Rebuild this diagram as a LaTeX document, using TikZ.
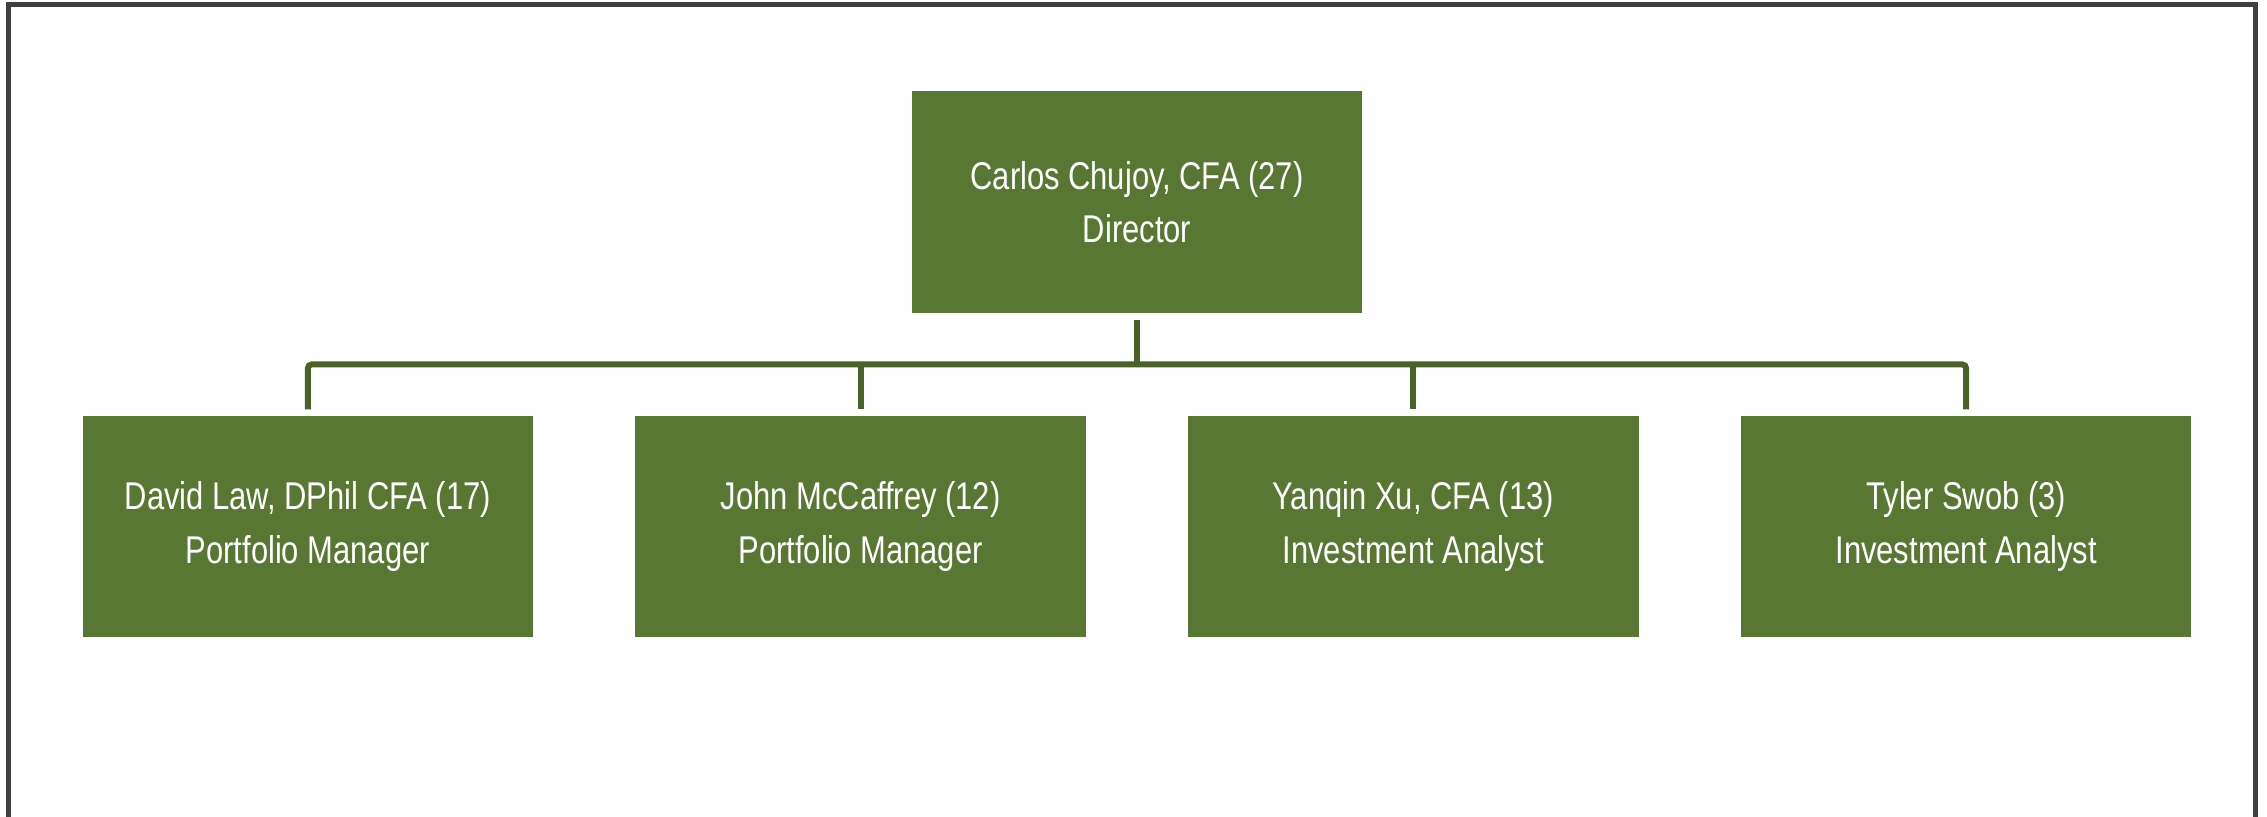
\documentclass[tikz,border=0pt]{standalone}
\usepackage{fontspec}
\setmainfont{Liberation Sans}[FakeStretch=0.8]
\usetikzlibrary{positioning}
\definecolor{boxgreen}{HTML}{587733}
\definecolor{linkgreen}{HTML}{4A6127}
\definecolor{framegray}{HTML}{404040}

\begin{document}
\begin{tikzpicture}[
  font=\fontsize{9.7}{13.5}\selectfont,
  member/.style={fill=boxgreen,text=white,minimum width=113pt,minimum height=55.5pt,align=center,inner sep=0pt},
  link/.style={draw=linkgreen,line width=1.5pt},
  frame/.style={draw=framegray,line width=1.25pt},
]
\node[member] (dir) {Carlos Chujoy, CFA (27)\\Director};
\node[member,below left=25.5pt and 12.6pt of dir.south] (john) {John McCaffrey (12)\\Portfolio Manager};
\node[member,below right=25.5pt and 12.6pt of dir.south] (yanqin) {Yanqin Xu, CFA (13)\\Investment Analyst};
\node[member,left=25.25pt of john] (david) {David Law, DPhil CFA (17)\\Portfolio Manager};
\node[member,right=25.25pt of yanqin] (tyler) {Tyler Swob (3)\\Investment Analyst};

% page and outer frame
\coordinate (pl) at ([xshift=-20.5pt]david.west);
\coordinate (pr) at ([xshift=18.75pt]tyler.east);
\coordinate (pt) at ([yshift=22.75pt]dir.north);
\coordinate (pb) at ([yshift=-44.75pt]david.south);
\useasboundingbox (pl |- pt) rectangle (pr |- pb);
\coordinate (fl) at ([xshift=2.25pt]pl);
\coordinate (fr) at ([xshift=-2.875pt]pr);
\coordinate (ft) at ([yshift=-1.125pt]pt);
\draw[frame] (fl |- pb) -- (fl |- ft) -- (fr |- ft) -- (fr |- pb);

% reporting lines
\coordinate (bus) at ([yshift=-12.75pt]dir.south);
\draw[link] ([yshift=-1.5pt]dir.south) -- (bus);
\draw[link,rounded corners=1pt] ([yshift=1.5pt]david.north) |- (bus) -| ([yshift=1.5pt]tyler.north);
\draw[link] ([yshift=1.5pt]john.north) -- (john.north |- bus);
\draw[link] ([yshift=1.5pt]yanqin.north) -- (yanqin.north |- bus);
\end{tikzpicture}
\end{document}
